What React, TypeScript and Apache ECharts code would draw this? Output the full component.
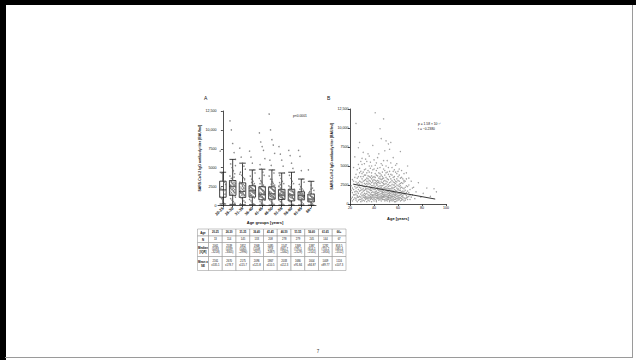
import React, { useEffect, useRef } from 'react';
import * as echarts from 'echarts';

const AGE_GROUPS = ['20-25', '26-30', '31-35', '36-40', '41-45', '46-50', '51-55', '56-60', '61-65', '66+'];
const N_COUNTS = [13, 114, 145, 133, 208, 278, 279, 245, 144, 67];
const WHISK_LO = [200, 150, 100, 100, 50, 50, 50, 50, 50, 50];
const Q1 = [1093, 1339, 1065, 1108, 759, 841.7, 795.1, 614.1, 755.2, 481.4];
const MEDIAN = [2061, 2539, 1852, 1948, 1485, 1547, 1369, 1387, 1292, 853.5];
const Q3 = [3218, 3305, 2996, 2611, 2487, 2462, 2129, 2141, 1816, 1512];
const WHISK_HI = [4400, 6100, 5600, 4700, 4800, 4700, 4300, 4400, 3500, 3200];
const MEAN = [2161, 2670, 2175, 2096, 1867, 2033, 1680, 1604, 1409, 1116];
const SE = ['535.1', '178.7', '115.7', '121.8', '110.5', '112.3', '91.84', '84.87', '89.77', '107.3'];

const GROUP_POINTS: number[][] = [
  [7200, 4300, 3300, 3100, 2800, 2300, 2100, 1900, 1500, 1100, 900, 600, 250],
  [11200, 10000, 8200, 7000, 6100, 5500, 5000, 4600, 4200, 3900, 3600, 3300, 3100, 2900, 2700, 2500, 2300, 2100, 1900, 1700, 1500, 1300, 1100, 900, 700, 500, 300,
    3250, 3020, 2870, 2610, 2440, 2230, 2060, 1830, 1660, 1420, 3180, 2960, 2780, 2560, 2380, 2170, 1980, 1760, 1540, 1380, 4450, 3760, 5280, 2640, 2480],
  [7600, 6400, 5600, 5200, 4800, 4400, 4000, 3700, 3400, 3100, 2900, 2700, 2400, 2200, 2000, 1800, 1600, 1400, 1200, 1000, 800, 600, 400, 200,
    2950, 2810, 2620, 2470, 2310, 2130, 1960, 1870, 1720, 1560, 1430, 1290, 1150, 2880, 2530, 2240, 1920, 1680, 1370, 1090, 3550, 4150, 1830, 1760],
  [7200, 6400, 5600, 4700, 4300, 3900, 3500, 3200, 2900, 2600, 2400, 2200, 2000, 1800, 1600, 1400, 1200, 1000, 800, 600, 400, 200,
    2580, 2470, 2330, 2160, 2040, 1950, 1880, 1730, 1620, 1510, 1380, 1260, 1150, 2520, 2280, 2090, 1910, 1790, 1560, 1320, 3050, 2750, 1700],
  [9600, 8400, 7800, 7300, 6200, 5400, 4800, 4400, 4000, 3600, 3300, 3000, 2700, 2500, 2300, 2100, 1900, 1700, 1500, 1300, 1100, 900, 700, 500, 300, 150,
    2450, 2360, 2220, 2080, 1960, 1830, 1720, 1610, 1490, 1380, 1260, 1140, 1030, 920, 810, 2400, 2170, 1990, 1770, 1550, 1330, 1180, 970, 860, 2880, 3150, 1440, 1620, 1210],
  [12100, 10000, 8700, 8000, 6900, 6000, 5300, 4700, 4300, 3900, 3500, 3200, 2900, 2700, 2500, 2300, 2100, 1900, 1700, 1500, 1300, 1100, 900, 700, 500, 300, 150,
    2440, 2350, 2210, 2060, 1950, 1830, 1690, 1580, 1470, 1360, 1240, 1120, 1010, 930, 860, 2410, 2140, 1970, 1760, 1530, 1310, 1170, 980, 880, 2820, 3080, 1420, 1640, 1220, 3450, 2600, 1860],
  [7800, 6800, 6000, 5200, 4300, 4000, 3600, 3200, 2900, 2600, 2300, 2100, 1900, 1700, 1500, 1300, 1100, 900, 700, 500, 300, 150,
    2110, 2030, 1920, 1810, 1720, 1630, 1540, 1460, 1370, 1280, 1190, 1090, 1010, 920, 840, 2080, 1860, 1670, 1490, 1330, 1150, 960, 870, 2480, 2750, 1420, 1580, 1230, 3020, 1780],
  [7300, 6600, 5600, 4900, 4400, 4000, 3600, 3200, 2900, 2600, 2300, 2100, 1900, 1700, 1500, 1300, 1100, 900, 700, 500, 300, 150,
    2120, 2040, 1930, 1820, 1710, 1620, 1530, 1440, 1350, 1260, 1170, 1060, 960, 850, 740, 650, 2090, 1870, 1660, 1480, 1310, 1130, 920, 780, 2480, 2760, 1400, 1570],
  [7300, 6500, 4600, 3500, 3100, 2800, 2500, 2200, 2000, 1800, 1600, 1400, 1200, 1000, 800, 600, 400, 200,
    1800, 1740, 1660, 1590, 1510, 1430, 1360, 1290, 1210, 1130, 1050, 970, 890, 810, 1780, 1550, 1320, 1100, 920, 2150, 2350, 1450],
  [4700, 3200, 2700, 2300, 2000, 1700, 1400, 1200, 1000, 800, 600, 400, 200,
    1490, 1380, 1250, 1130, 1020, 930, 860, 780, 700, 620, 540, 1320, 1080, 880, 650, 1850, 2150],
];

// Panel B: individual titers, listed by age (first entry = age 21)
const B_AGE_START = 21;
const B_TITERS_BY_AGE: number[][] = [
  [1800, 700, 2400],
  [3200, 900, 1500, 2100, 400],
  [2600, 4800, 1200, 600, 1900, 3000],
  [1200, 6200, 2300, 800, 3500, 1600],
  [2100, 10600, 500, 2900, 1300, 3900, 700, 1700],
  [3400, 1600, 2200, 900, 4500, 300, 2700, 1100],
  [2800, 7400, 900, 1900, 3600, 500, 2400, 1400, 5200],
  [8100, 2200, 4100, 1000, 3000, 600, 1700, 2600, 4700],
  [1300, 3600, 600, 2100, 2900, 4300, 900, 1800, 5600, 300],
  [5200, 2500, 1100, 3300, 700, 1900, 4000, 1500, 2800, 400, 6000],
  [3000, 1700, 6800, 900, 2300, 4200, 1200, 3600, 500, 2000],
  [2300, 400, 4500, 1400, 3100, 800, 1800, 5300, 2700, 1100, 3800],
  [1900, 3800, 800, 2600, 1300, 4600, 600, 3200, 2100, 1000, 5900],
  [2700, 5600, 1400, 700, 3400, 2000, 4100, 900, 1700, 3000, 300, 2400],
  [3300, 700, 2000, 1200, 4400, 2600, 900, 3700, 1600, 500, 2900, 6600],
  [4200, 1500, 6300, 2300, 800, 3100, 1100, 2700, 400, 1900, 3600, 5000],
  [2600, 1000, 3500, 1800, 600, 4700, 2200, 1300, 3000, 800, 5500, 2000],
  [1800, 5000, 300, 2400, 1200, 3300, 900, 2800, 1500, 4100, 700, 2100, 3700],
  [2900, 1200, 7700, 2000, 600, 3500, 1600, 4500, 900, 2400, 1100, 3100],
  [2200, 4600, 900, 1500, 3200, 700, 2700, 1200, 5800, 1900, 400, 3600, 2500],
  [12000, 1600, 3100, 900, 2300, 4000, 1200, 2800, 600, 1900, 3500, 5100, 1400],
  [2500, 500, 5400, 1700, 3000, 1100, 2100, 3800, 800, 1400, 2700, 4400, 300],
  [1900, 3700, 1100, 2500, 700, 3100, 1500, 4700, 2200, 900, 2800, 1300, 6100],
  [2800, 6600, 700, 1800, 3400, 1200, 2300, 4100, 900, 1500, 3000, 500, 2000],
  [9900, 2100, 4000, 1300, 2700, 800, 3300, 1700, 600, 2400, 4800, 1000, 3600, 1900],
  [8600, 3200, 1700, 400, 2400, 1100, 3800, 2000, 700, 2900, 1400, 5300, 900, 2200],
  [2400, 5100, 1000, 1700, 3300, 600, 2800, 1300, 4200, 2000, 800, 3600, 1500],
  [11200, 1500, 3400, 2700, 900, 2100, 4600, 1200, 3000, 600, 1800, 2500, 5700, 1000],
  [600, 4400, 2000, 1300, 3100, 900, 2600, 1600, 3800, 400, 2200, 1100, 7000],
  [8300, 1200, 3000, 2300, 700, 1800, 4100, 1500, 2700, 500, 3500, 1000, 2000, 5000],
  [1800, 5700, 800, 2500, 1300, 3300, 600, 2100, 1000, 4200, 1600, 2900, 400],
  [2600, 3900, 1400, 800, 2000, 3200, 1100, 4800, 1700, 600, 2300, 900, 7900],
  [7200, 2000, 500, 1500, 2800, 1100, 3600, 800, 2400, 1300, 4300, 1800, 300],
  [8100, 3300, 1100, 2400, 700, 1700, 3900, 1400, 2900, 500, 2000, 5400, 900],
  [1700, 4800, 600, 2200, 1200, 3100, 900, 2600, 1500, 3800, 400, 2000, 1000],
  [2900, 1300, 6100, 2100, 700, 1700, 3500, 1000, 2500, 500, 4300, 1500],
  [2200, 900, 3600, 1500, 2800, 600, 1900, 4500, 1200, 3200, 300, 2500],
  [1500, 4200, 300, 2300, 1100, 3000, 800, 1800, 2700, 5100, 1300, 600],
  [2500, 1000, 5300, 1700, 3300, 700, 2100, 1300, 4000, 400, 2900],
  [1900, 700, 3100, 1400, 2400, 900, 4300, 1100, 2000, 500, 3600],
  [1400, 4600, 2300, 800, 1800, 3000, 600, 2600, 1100, 3800],
  [800, 2700, 6900, 1500, 2100, 400, 3400, 1200, 1800, 2400],
  [1600, 500, 3500, 2200, 1000, 2800, 700, 1300, 4400],
  [2100, 1100, 2700, 600, 1700, 3300, 900, 1400],
  [2900, 400, 4000, 1300, 2000, 800, 1600, 3100],
  [1300, 2200, 700, 1800, 3000, 500],
  [3300, 800, 1500, 2400, 1100, 4100],
  [1700, 5000, 900, 2300, 600],
  [1000, 2500, 1500, 3400],
  [600, 1900, 1200],
  [3000, 900],
  [1200, 2100],
  [2200],
  [700],
  [1600],
];
const B_OLDER: [number, number][] = [[77, 2800], [79, 900], [81, 1400], [84, 2100], [87, 1000], [90, 2000], [92, 1600]];
const FIT_LINE: [number, number][] = [[23, 2600], [91, 650]];

const Y_MAX = 12500;
const FONT = 'Liberation Sans, Arial, sans-serif';
const INK = '#111';

const JITTER = [-0.28, -0.14, 0, 0.14, 0.28, -0.21, -0.07, 0.07, 0.21];

function fmtY(v: number) {
  return v >= 10000 ? v.toLocaleString('en-US') : String(v);
}

function buildTable() {
  const x0 = 197.5;
  const firstW = 11;
  const colW = 13.75;
  const rowsH = [7, 6.5, 14, 14];
  const y0 = 229;
  const rowLabels = ['Age', 'N', 'Median\n[IQR]', 'Mean ±\nSE'];
  const cells: string[][] = [
    AGE_GROUPS,
    N_COUNTS.map(String),
    MEDIAN.map((m, i) => `${m}\n(${Q1[i]}\n–${Q3[i]})`),
    MEAN.map((m, i) => `${m}\n±${SE[i]}`),
  ];
  const els: any[] = [];
  let y = y0;
  rowsH.forEach((h, r) => {
    let x = x0;
    els.push({ type: 'rect', shape: { x, y, width: firstW, height: h }, style: { fill: '#fff', stroke: '#8a8a8a', lineWidth: 0.5 } });
    els.push({ type: 'text', x: x + firstW / 2, y: y + h / 2, style: { text: rowLabels[r], fontSize: 2.9, fontWeight: 'bold', fontFamily: FONT, fill: INK, align: 'center', verticalAlign: 'middle', lineHeight: 3.4 } });
    x += firstW;
    cells[r].forEach((t) => {
      els.push({ type: 'rect', shape: { x, y, width: colW, height: h }, style: { fill: '#fff', stroke: '#8a8a8a', lineWidth: 0.5 } });
      els.push({ type: 'text', x: x + colW / 2, y: y + h / 2, style: { text: t, fontSize: 2.7, fontWeight: r === 0 ? 'bold' : 'normal', fontFamily: FONT, fill: INK, align: 'center', verticalAlign: 'middle', lineHeight: 3.4 } });
      x += colW;
    });
    y += h;
  });
  return els;
}

export default function App() {
  const ref = useRef<HTMLDivElement>(null);
  useEffect(() => {
    const chart = echarts.init(ref.current!, null, { renderer: 'svg' });
    const boxData = AGE_GROUPS.map((_, i) => [WHISK_LO[i], Q1[i], MEDIAN[i], Q3[i], WHISK_HI[i]]);
    const jitterData: [number, number][] = [];
    GROUP_POINTS.forEach((vals, g) => {
      vals.forEach((v, k) => jitterData.push([g + JITTER[k % JITTER.length], v]));
    });
    const bData: [number, number][] = [];
    B_TITERS_BY_AGE.forEach((vals, i) => vals.forEach((v) => bData.push([B_AGE_START + i, v])));
    B_OLDER.forEach((p) => bData.push(p));

    const axisLine = { show: true, lineStyle: { color: '#222', width: 0.8 } };
    const axisTick = { show: true, length: 2, lineStyle: { color: '#222', width: 0.8 } };
    const yAxisCommon = {
      type: 'value', min: 0, max: Y_MAX, interval: 2500,
      axisLine, axisTick, splitLine: { show: false },
      axisLabel: { fontSize: 3.6, fontFamily: FONT, color: INK, margin: 1.5, formatter: fmtY },
      name: 'SARS-CoV-2 IgG antibody titer [BAU/ml]', nameLocation: 'middle', nameGap: 13,
      nameTextStyle: { fontSize: 3.5, fontFamily: FONT, color: INK, fontWeight: 'bold' },
    };
    const option: any = {
      animation: false,
      backgroundColor: '#fff',
      grid: [
        { left: 218, top: 111, width: 98, height: 94.5 },
        { left: 350, top: 109, width: 96, height: 95 },
      ],
      xAxis: [
        {
          gridIndex: 0, type: 'category', data: AGE_GROUPS, boundaryGap: true,
          axisLine, axisTick: { ...axisTick, alignWithLabel: true },
          axisLabel: { interval: 0, rotate: 45, fontSize: 4, fontWeight: 'bold', fontFamily: FONT, color: INK, margin: 2 },
        },
        { gridIndex: 0, type: 'value', min: -0.5, max: 9.5, show: false },
        {
          gridIndex: 1, type: 'value', min: 20, max: 100, interval: 20, axisLine, axisTick,
          splitLine: { show: false },
          axisLabel: { fontSize: 3.6, fontFamily: FONT, color: INK, margin: 2 },
          name: 'Age [years]', nameLocation: 'middle', nameGap: 12,
          nameTextStyle: { fontSize: 4, fontFamily: FONT, color: INK, fontWeight: 'bold' },
        },
      ],
      yAxis: [
        { gridIndex: 0, ...yAxisCommon },
        { gridIndex: 1, ...yAxisCommon, nameGap: 14 },
      ],
      series: [
        {
          type: 'boxplot', xAxisIndex: 0, yAxisIndex: 0, data: boxData, boxWidth: [6.5, 6.5],
          itemStyle: { color: 'rgba(255,255,255,0)', borderColor: '#111', borderWidth: 0.8 },
        },
        {
          type: 'scatter', xAxisIndex: 1, yAxisIndex: 0, data: jitterData, symbolSize: 1.5,
          itemStyle: { color: '#6a6a6a' },
        },
        {
          type: 'scatter', xAxisIndex: 2, yAxisIndex: 1, data: bData, symbolSize: 1.4,
          itemStyle: { color: '#8a8a8a' },
        },
        {
          type: 'line', xAxisIndex: 2, yAxisIndex: 1, data: FIT_LINE, showSymbol: false,
          lineStyle: { color: '#222', width: 0.9 }, z: 5,
        },
      ],
      graphic: [
        { type: 'text', x: 204, y: 95, style: { text: 'A', fontSize: 5, fontFamily: FONT, fill: INK } },
        { type: 'text', x: 327, y: 95, style: { text: 'B', fontSize: 5, fontFamily: FONT, fill: INK } },
        { type: 'text', x: 293, y: 114, style: { text: 'p<0.0001', fontSize: 3.3, fontFamily: FONT, fill: INK } },
        { type: 'text', x: 418, y: 122, style: { text: 'p = 1.58 × 10⁻¹⁷', fontSize: 3.3, fontFamily: FONT, fill: INK } },
        { type: 'text', x: 418, y: 127.5, style: { text: 'r = −0.2380', fontSize: 3.3, fontFamily: FONT, fill: INK } },
        { type: 'text', x: 265, y: 222, style: { text: 'Age groups [years]', fontSize: 4, fontWeight: 'bold', fontFamily: FONT, fill: INK, align: 'center', verticalAlign: 'middle' } },
        { type: 'text', x: 318, y: 351, style: { text: '7', fontSize: 4.5, fontFamily: FONT, fill: '#333', align: 'center', verticalAlign: 'middle' } },
        ...buildTable(),
      ],
    };
    chart.setOption(option);
    return () => chart.dispose();
  }, []);
  return (
    <div style={{ position: 'absolute', left: 0, top: 0, width: 636, height: 360, background: '#fff' }}>
      <div ref={ref} style={{ position: 'absolute', left: 0, top: 0, width: 636, height: 360 }} />
      <div style={{ position: 'absolute', left: 0, top: 0, width: 636, height: 5, background: '#000', zIndex: 10 }} />
      <div style={{ position: 'absolute', left: 0, top: 0, width: 6, height: 360, background: '#000', zIndex: 10 }} />
      <div style={{ position: 'absolute', left: 632, top: 5, width: 1, height: 353, background: '#9a9a9a', zIndex: 10 }} />
      <div style={{ position: 'absolute', left: 5, top: 357, width: 628, height: 1, background: '#9a9a9a', zIndex: 10 }} />
    </div>
  );
}
